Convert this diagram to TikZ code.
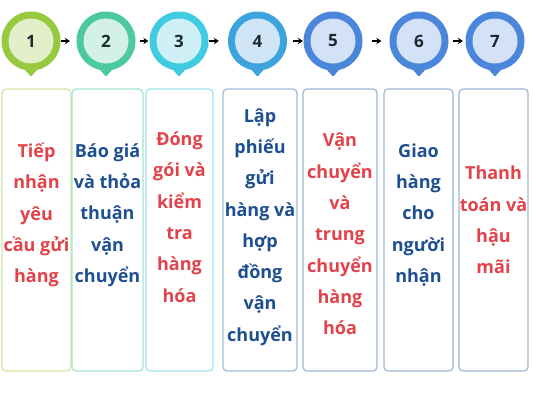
\documentclass[tikz,border=0pt]{standalone}
\usepackage{fontspec}
\setsansfont{Open Sans}
\usepackage{tikz}
\usetikzlibrary{arrows.meta, positioning}
\definecolor{Lime}{HTML}{96C93D}
\definecolor{LimeL}{HTML}{E2EFC9}
\definecolor{Mint}{HTML}{4CC9A0}
\definecolor{MintL}{HTML}{D4F1E6}
\definecolor{Aqua}{HTML}{3FCBE0}
\definecolor{AquaL}{HTML}{CFF0F7}
\definecolor{Sky}{HTML}{3DA3DD}
\definecolor{SkyL}{HTML}{D0E6F7}
\definecolor{Royal}{HTML}{4A86DA}
\definecolor{RoyalL}{HTML}{D3E2F6}
\definecolor{StepRed}{HTML}{E2434B}
\definecolor{StepBlue}{HTML}{1D4F91}
\definecolor{NumDark}{HTML}{1E2A33}

\begin{document}
\begin{tikzpicture}[
			x=1pt, y=-1pt,
			bubble/.style={circle, minimum size=59pt, inner sep=0pt},
			num/.style={circle, minimum size=45pt, inner sep=0pt, text=NumDark, font=\sffamily\bfseries\fontsize{17}{20}\selectfont},
			box/.style={rectangle, draw, line width=1.2pt, rounded corners=4pt, minimum height=282pt},
			txt/.style={align=center, inner sep=0pt, font=\sffamily\bfseries\fontsize{18}{31.3}\selectfont},
			arr/.style={-{Stealth[length=5pt, width=6.5pt]}, line width=2pt},
			]
			\fill[white] (0,0) rectangle (533,400);
			\useasboundingbox (0,0) rectangle (533,400);
			
			\node (b1) [bubble, fill=Lime] at (31,41) {};
			\node (b2) [bubble, fill=Mint] at (106,41) {};
			\node (b3) [bubble, fill=Aqua] at (179,41) {};
			\node (b4) [bubble, fill=Sky] at (257.5,41) {};
			\node (b5) [bubble, fill=Royal] at (333,41) {};
			\node (b6) [bubble, fill=Royal] at (419,41) {};
			\node (b7) [bubble, fill=Royal] at (495,41) {};
			% pin tips
			\fill[Lime, rounded corners=1pt] ([xshift=-7pt, yshift=2pt]b1.south) -- ([yshift=-6pt]b1.south) -- ([xshift=7pt, yshift=2pt]b1.south) -- cycle;
			\fill[Mint, rounded corners=1pt] ([xshift=-7pt, yshift=2pt]b2.south) -- ([yshift=-6pt]b2.south) -- ([xshift=7pt, yshift=2pt]b2.south) -- cycle;
			\fill[Aqua, rounded corners=1pt] ([xshift=-7pt, yshift=2pt]b3.south) -- ([yshift=-6pt]b3.south) -- ([xshift=7pt, yshift=2pt]b3.south) -- cycle;
			\fill[Sky, rounded corners=1pt] ([xshift=-7pt, yshift=2pt]b4.south) -- ([yshift=-6pt]b4.south) -- ([xshift=7pt, yshift=2pt]b4.south) -- cycle;
			\fill[Royal, rounded corners=1pt] ([xshift=-7pt, yshift=2pt]b5.south) -- ([yshift=-6pt]b5.south) -- ([xshift=7pt, yshift=2pt]b5.south) -- cycle;
			\fill[Royal, rounded corners=1pt] ([xshift=-7pt, yshift=2pt]b6.south) -- ([yshift=-6pt]b6.south) -- ([xshift=7pt, yshift=2pt]b6.south) -- cycle;
			\fill[Royal, rounded corners=1pt] ([xshift=-7pt, yshift=2pt]b7.south) -- ([yshift=-6pt]b7.south) -- ([xshift=7pt, yshift=2pt]b7.south) -- cycle;
			
			\node (n1) [num, fill=LimeL] at (b1) {1};
			\node (n2) [num, fill=MintL] at (b2) {2};
			\node (n3) [num, fill=AquaL] at (b3) {3};
			\node (n4) [num, fill=SkyL] at (b4) {4};
			\node (n5) [num, fill=RoyalL] at (b5) {5};
			\node (n6) [num, fill=RoyalL] at (b6) {6};
			\node (n7) [num, fill=RoyalL] at (b7) {7};
			
			\draw[arr, shorten >=6.5pt] (b1.east) -- (b2.west);
			\draw[arr, shorten <=4pt, shorten >=1pt] (b2.east) -- (b3.west);
			\draw[arr, shorten >=9pt] (b3.east) -- (b4.west);
			\draw[arr, shorten <=6pt, shorten >=0.5pt] (b4.east) -- (b5.west);
			\draw[arr, shorten <=9pt, shorten >=8pt] (b5.east) -- (b6.west);
			\draw[arr, shorten <=4pt, shorten >=2.5pt] (b6.east) -- (b7.west);
			
			\node (s1) [box, draw=Lime!45, minimum width=69pt] at (36.5,230) {};
			\node (s2) [box, draw=Mint!50, minimum width=71pt] at (107.5,230) {};
			\node (s3) [box, draw=Aqua!50, minimum width=67pt] at (179.5,230) {};
			\node (s4) [box, draw=Sky!35!StepBlue!45, minimum width=74pt] at (260,230) {};
			\node (s5) [box, draw=Royal!30!StepBlue!45, minimum width=74pt] at (340,230) {};
			\node (s6) [box, draw=Royal!30!StepBlue!45, minimum width=69pt] at (418.5,230) {};
			\node (s7) [box, draw=Royal!30!StepBlue!45, minimum width=69pt] at (493.5,230) {};
			
			\node (t1) [txt, text=StepRed] at ([yshift=15pt]s1.center) {Tiếp\\nhận\\yêu\\cầu gửi\\hàng};
			\node (t2) [txt, text=StepBlue] at ([yshift=15pt]s2.center) {Báo giá\\và thỏa\\thuận\\vận\\chuyển};
			\node (t3) [txt, text=StepRed] at ([yshift=13pt]s3.center) {Đóng\\gói và\\kiểm\\tra\\hàng\\hóa};
			\node (t4) [txt, text=StepBlue] at ([yshift=3pt]s4.center) {Lập\\phiếu\\gửi\\hàng và\\hợp\\đồng\\vận\\chuyển};
			\node (t5) [txt, text=StepRed] at ([yshift=-4pt]s5.center) {Vận\\chuyển\\và\\trung\\chuyển\\hàng\\hóa};
			\node (t6) [txt, text=StepBlue] at ([yshift=15pt]s6.center) {Giao\\hàng\\cho\\người\\nhận};
			\node (t7) [txt, text=StepRed] at ([yshift=10pt]s7.center) {Thanh\\toán và\\hậu\\mãi};
		\end{tikzpicture}
\end{document}
